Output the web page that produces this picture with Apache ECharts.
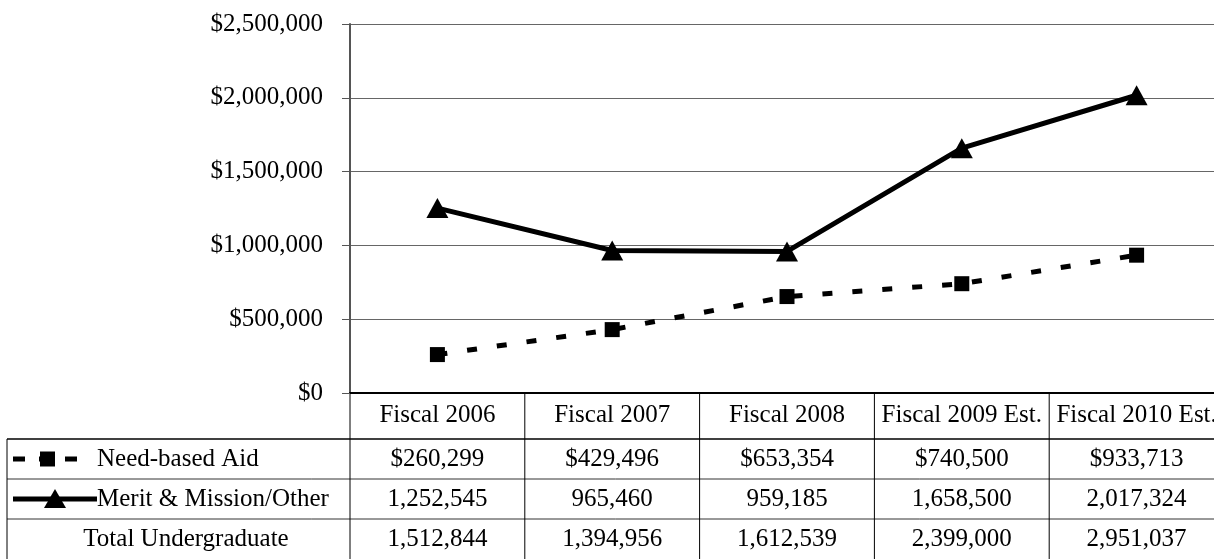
<!DOCTYPE html>
<html><head><meta charset="utf-8">
<script src="https://cdn.jsdelivr.net/npm/echarts@6/dist/echarts.min.js"></script>
<style>html,body{margin:0;padding:0;background:#fff;overflow:hidden;width:1214px;height:559px}#c{width:1224px;height:559px}</style>
</head><body><div id="c"></div>
<script>
const categories = ['Fiscal 2006', 'Fiscal 2007', 'Fiscal 2008', 'Fiscal 2009 Est.', 'Fiscal 2010 Est.'];
const needBased = [260299, 429496, 653354, 740500, 933713];
const merit = [1252545, 965460, 959185, 1658500, 2017324];
const totalUndergrad = [1512844, 1394956, 1612539, 2399000, 2951037];
const rowNames = ['Need-based Aid', 'Merit & Mission/Other', 'Total Undergraduate'];
const yMin = 0, yMax = 2500000, yStep = 500000;

const FF = '"Liberation Serif", "Times New Roman", serif';
const FS = 25;
const fmt = v => v.toLocaleString('en-US');

const chart = echarts.init(document.getElementById('c'), null, {renderer: 'canvas'});
chart.setOption({
  animation: false,
  backgroundColor: '#fff',
  grid: {left: 350, top: 24, right: 0, height: 369, containLabel: false},
  xAxis: {
    type: 'category', data: categories, boundaryGap: true,
    axisLine: {lineStyle: {color: '#000', width: 2}},
    axisTick: {show: false},
    axisLabel: {color: '#000', fontFamily: FF, fontSize: FS, margin: 10, interval: 0},
    splitLine: {show: false}
  },
  yAxis: {
    type: 'value', min: yMin, max: yMax, interval: yStep,
    axisLine: {show: true, lineStyle: {color: '#555', width: 2}},
    axisTick: {show: true, length: 8, lineStyle: {color: '#555', width: 1}},
    splitLine: {show: true, lineStyle: {color: '#666', width: 1}},
    axisLabel: {color: '#000', fontFamily: FF, fontSize: FS, margin: 27,
      formatter: v => '$' + fmt(v)}
  },
  series: [
    {type: 'line', name: rowNames[0], data: needBased, symbol: 'rect', symbolSize: 15,
     lineStyle: {color: '#000', width: 5, type: [10, 20]}, itemStyle: {color: '#000'}, z: 3},
    {type: 'line', name: rowNames[1], data: merit, symbol: 'triangle', symbolSize: [22, 20],
     lineStyle: {color: '#000', width: 5}, itemStyle: {color: '#000'}, z: 4}
  ]
});

// Data table beneath the chart
const px = categories.map((c, i) => chart.convertToPixel({xAxisIndex: 0}, i));
const band = px.length > 1 ? px[1] - px[0] : 174;
const bounds = [px[0] - band / 2].concat(px.map(p => p + band / 2));
const axisY = 393, tableTop = 439, rowH = 40, H = 559, leftX = 7, W = 1224;
const g = [];
const lineStyle = {stroke: '#000', lineWidth: 1};
[tableTop, tableTop + rowH, tableTop + 2 * rowH].forEach((y, i) => {
  g.push({type: 'line', shape: {x1: leftX, y1: y, x2: W, y2: y}, style: {stroke: i === 0 ? '#000' : '#333', lineWidth: i === 0 ? 1.5 : 1}});
});
g.push({type: 'line', shape: {x1: leftX, y1: tableTop, x2: leftX, y2: H}, style: lineStyle});
bounds.forEach(x => g.push({type: 'line', shape: {x1: x, y1: axisY, x2: x, y2: H}, style: lineStyle}));
const rows = [needBased.map(v => '$' + fmt(v)), merit.map(fmt), totalUndergrad.map(fmt)];
rows.forEach((r, ri) => {
  const cy = tableTop + rowH * ri + rowH / 2;
  r.forEach((t, ci) => g.push({type: 'text', style: {text: t, x: px[ci], y: cy, font: FS + 'px ' + FF, fill: '#000', align: 'center', verticalAlign: 'middle', textAlign: 'center', textVerticalAlign: 'middle'}}));
});
// row headers
const r0 = tableTop + rowH / 2, r1 = tableTop + rowH * 1.5, r2 = tableTop + rowH * 2.5;
g.push({type: 'text', style: {text: rowNames[0], x: 97, y: r0, font: FS + 'px ' + FF, fill: '#000', align: 'left', verticalAlign: 'middle', textAlign: 'left', textVerticalAlign: 'middle'}});
g.push({type: 'text', style: {text: rowNames[1], x: 97, y: r1, font: FS + 'px ' + FF, fill: '#000', align: 'left', verticalAlign: 'middle', textAlign: 'left', textVerticalAlign: 'middle'}});
g.push({type: 'text', style: {text: rowNames[2], x: 186, y: r2, font: FS + 'px ' + FF, fill: '#000', align: 'center', verticalAlign: 'middle', textAlign: 'center', textVerticalAlign: 'middle'}});
// legend keys
g.push({type: 'line', shape: {x1: 13, y1: r0, x2: 80, y2: r0}, style: {stroke: '#000', lineWidth: 5, lineDash: [12, 14]}});
g.push({type: 'rect', shape: {x: 40, y: r0 - 7.5, width: 15, height: 15}, style: {fill: '#000'}});
g.push({type: 'line', shape: {x1: 13, y1: r1, x2: 97, y2: r1}, style: {stroke: '#000', lineWidth: 5}});
g.push({type: 'polygon', shape: {points: [[55, r1 - 10], [44, r1 + 9], [66, r1 + 9]]}, style: {fill: '#000'}});
chart.setOption({graphic: {elements: g}});
</script></body></html>
